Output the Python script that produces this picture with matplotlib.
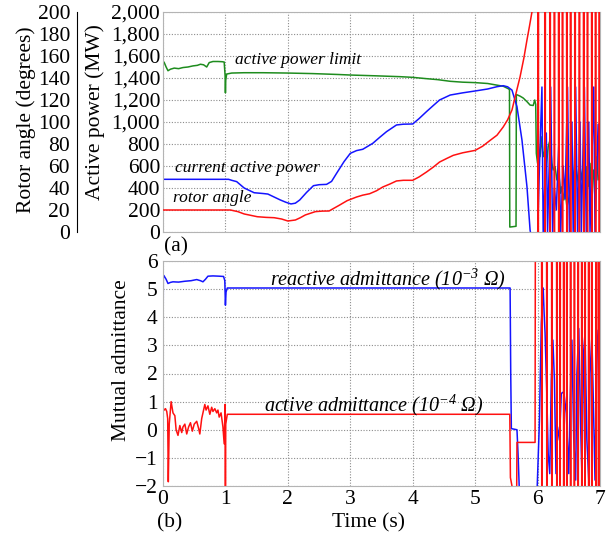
import matplotlib
matplotlib.use('Agg')
import matplotlib.pyplot as plt
from matplotlib.ticker import FuncFormatter

plt.rcParams['font.family'] = 'Liberation Serif'
plt.rcParams['mathtext.default'] = 'regular'

# ---- panel (a): active power limit (MW) ----
limit_t = [0.0, 0.001, 0.02, 0.05, 0.08, 0.12, 0.18, 0.25, 0.32, 0.4, 0.48, 0.55, 0.6, 0.65, 0.7,
           0.74, 0.8, 0.88, 0.95, 0.98, 0.995, 1.0, 1.005, 1.02, 1.1, 1.3, 1.6, 2.0, 2.4, 2.8, 3.0,
           3.4, 3.8, 4.0, 4.2, 4.4, 4.6, 4.8, 5.0, 5.2, 5.35, 5.45, 5.54, 5.55, 5.555, 5.6, 5.655,
           5.66, 5.72, 5.77, 5.83, 5.88, 5.93, 5.955, 5.97, 5.98, 6.0, 6.01, 6.04, 6.07, 6.09, 6.12,
           6.14, 6.17, 6.2, 6.23, 6.25, 6.28, 6.31, 6.34, 6.37, 6.39, 6.42, 6.44, 6.47, 6.52, 6.55,
           6.58, 6.6, 6.63, 6.66, 6.68, 6.71, 6.74, 6.77, 6.79, 6.82, 6.84, 6.87, 6.9, 6.93, 6.95,
           6.97, 7.0]
limit_p = [0, 1555, 1540, 1500, 1466, 1480, 1490, 1485, 1495, 1500, 1510, 1515, 1525, 1520, 1500,
           1540, 1550, 1550, 1548, 1545, 1420, 1265, 1380, 1436, 1445, 1448, 1448, 1445, 1440, 1432, 1427,
           1420, 1412, 1406, 1395, 1385, 1370, 1362, 1358, 1350, 1335, 1325, 1300, 1290, 45, 48, 52,
           1250, 1235, 1218, 1185, 1154, 1150, 1200, 1160, 715, 624, 806, 685, 867, 685, 745,
           594, 776, 836, 624, 564, 594, 473, 533, 352, 412, 291, 382, 230, 352, 594,
           473, 655, 533, 412, 594, 473, 655, 382, 594, 412, 624, 291, 564, 412, 685,
           473, 533]

# ---- panel (a): current active power (MW) ----
power_t = [0.0, 1.05, 1.1, 1.18, 1.3, 1.46, 1.6, 1.68, 1.88, 1.97, 2.05, 2.12, 2.19, 2.3, 2.41,
           2.5, 2.62, 2.7, 2.78, 2.9, 3.0, 3.1, 3.2, 3.36, 3.47, 3.58, 3.74, 3.85, 4.0, 4.1, 4.22,
           4.33, 4.43, 4.6, 4.8, 5.0, 5.2, 5.35, 5.45, 5.52, 5.59, 5.67, 5.75, 5.83, 5.88, 5.9,
           6.0, 6.03, 6.07, 6.09, 6.12, 6.14, 6.16, 6.19, 6.21, 6.24, 6.27, 6.3, 6.34, 6.37, 6.41,
           6.44, 6.48, 6.51, 6.55, 6.57, 6.61, 6.64, 6.68, 6.7, 6.75, 6.78, 6.82, 6.84, 6.9, 6.92,
           6.97, 7.0]
power_p = [479, 479, 470, 458, 400, 357, 350, 345, 291, 270, 255, 262, 291, 360, 421,
           430, 433, 460, 533, 640, 715, 740, 752, 806, 860, 912, 973, 980, 982, 1030, 1094,
           1150, 1200, 1245, 1265, 1282, 1300, 1321, 1330, 1320, 1290, 1139, 836, 412, 18, -50,
           -50, 600, 1318, 0, 500, 900, 0, 700, 1318, 0, 400, 200, 800, 0, 600,
           300, 1318, 0, 1000, 0, 1318, 0, 1000, 0, 1318, 0, 1000, 0, 1318, 0,
           980, 400]

# ---- panel (a): rotor angle (degrees) ----
angle_t = [0.0, 1.08, 1.2, 1.3, 1.51, 1.65, 1.78, 1.9, 2.0, 2.12, 2.2, 2.28, 2.44, 2.55, 2.66,
           2.82, 2.95, 3.1, 3.2, 3.31, 3.42, 3.52, 3.63, 3.74, 3.85, 4.0, 4.1, 4.22, 4.33, 4.43,
           4.55, 4.65, 4.8, 5.0, 5.12, 5.24, 5.35, 5.45, 5.52, 5.59, 5.65, 5.72, 5.78, 5.83, 5.87,
           5.91, 5.95,
           6.004, 6.007, 6.013, 6.016, 6.114, 6.117, 6.123, 6.126, 6.194, 6.197, 6.203, 6.206,
           6.264, 6.267, 6.273, 6.276, 6.334, 6.337, 6.343, 6.346, 6.394, 6.397, 6.403, 6.406,
           6.464, 6.467, 6.473, 6.476, 6.524, 6.527, 6.533, 6.536, 6.594, 6.597, 6.603, 6.606,
           6.664, 6.667, 6.673, 6.676, 6.734, 6.737, 6.743, 6.746, 6.794, 6.797, 6.803, 6.806,
           6.864, 6.867, 6.873, 6.876, 6.924, 6.927, 6.933, 6.936, 6.984, 6.987, 6.993, 6.996, 7.0]
angle_d = [20, 20, 18.5, 16.4, 13.9, 13.3, 13.0, 11.8, 10.0, 10.9, 13, 15.5, 18.5, 19.0, 19.1,
           24.2, 28.5, 31.8, 33.5, 34.8, 37.5, 40.9, 43.5, 46.4, 47, 47, 50, 54.5, 59, 63.6,
           67, 69.7, 72, 74.2, 78, 83.3, 88, 95.5, 102, 110.9, 125, 141.2, 158, 174.5, 187,
           200, 230,
           260, -5, -5, 260, 260, -5, -5, 260, 260, -5, -5, 260,
           260, -5, -5, 260, 260, -5, -5, 260, 260, -5, -5, 260,
           260, -5, -5, 260, 260, -5, -5, 260, 260, -5, -5, 260,
           260, -5, -5, 260, 260, -5, -5, 260, 260, -5, -5, 260,
           260, -5, -5, 260, 260, -5, -5, 260, 260, -5, -5, 260, 260]

# ---- panel (b): reactive admittance (10^-3 ohm) ----
react_t = [0.0, 0.005, 0.02, 0.05, 0.08, 0.12, 0.16, 0.25, 0.35, 0.45, 0.54, 0.6, 0.64, 0.68,
           0.72, 0.8, 0.9, 0.97, 0.99, 1.0, 1.01, 1.03, 5.56, 5.57, 5.58, 5.67, 5.69, 5.71, 5.99,
           6.03, 6.06, 6.09, 6.105, 6.12, 6.145, 6.17, 6.195, 6.22, 6.245, 6.27, 6.295, 6.32, 6.35,
           6.38, 6.42, 6.46, 6.5, 6.52, 6.55, 6.58, 6.61, 6.63, 6.66, 6.69, 6.71, 6.74, 6.76, 6.79,
           6.82, 6.84, 6.87, 6.9, 6.92, 6.95, 6.97, 7.0]
react_v = [0.8, 5.5, 5.46, 5.35, 5.2, 5.24, 5.26, 5.25, 5.28, 5.3, 5.34, 5.3, 5.26, 5.35,
           5.46, 5.47, 5.46, 5.45, 5.3, 4.43, 4.9, 5.04, 5.04, 2.0, 0.04, 0.0, -1.0, -2.3, -2.3,
           0.34, 3.78, 5.04, 4.15, 3.44, 1.53, -0.85, -1.56, 1.77, 3.19, 1.77, -1.56, 0.1, -0.37,
           1.29, 1.35, 0.58, -1.56, 0.82, 3.19, -0.37, -1.79, 2.0, 3.6, 0.1, -1.56, 2.83, 3.43, -0.37,
           -1.79, 2.0, 3.31, 0.34, -1.79, 2.83, 3.54, -1.08]

# ---- panel (b): active admittance (10^-4 ohm) ----
act_t = [0.0, 0.004, 0.02, 0.04, 0.06, 0.075, 0.085, 0.1, 0.13, 0.16, 0.19, 0.21, 0.24, 0.27,
         0.3, 0.32, 0.35, 0.38, 0.41, 0.44, 0.47, 0.5, 0.54, 0.57, 0.59, 0.62, 0.64, 0.67, 0.69,
         0.72, 0.75, 0.78, 0.8, 0.83, 0.86, 0.88, 0.9, 0.93, 0.96, 0.98, 0.995, 1.0, 1.005, 1.03,
         5.555, 5.565, 5.59, 5.62, 5.665, 5.67, 5.96, 5.965,
         6.064, 6.067, 6.073, 6.076, 6.144, 6.147, 6.153, 6.156, 6.224, 6.227, 6.233, 6.236,
         6.304, 6.307, 6.313, 6.316, 6.354, 6.357, 6.363, 6.366, 6.414, 6.417, 6.423, 6.426,
         6.464, 6.467, 6.473, 6.476, 6.524, 6.527, 6.533, 6.536, 6.584, 6.587, 6.593, 6.596,
         6.644, 6.647, 6.653, 6.656, 6.704, 6.707, 6.713, 6.716, 6.754, 6.757, 6.763, 6.766,
         6.814, 6.817, 6.823, 6.826, 6.864, 6.867, 6.873, 6.876, 6.934, 6.937, 6.943, 6.946,
         6.974, 6.977, 6.983, 6.986, 7.0]
act_v = [-1.8, 0.75, 0.7, 0.75, 0.65, 0.4, -1.85, 0.2, 1.0, 0.6, 0.5, 0.0, -0.2, 0.15,
         -0.1, 0.1, 0.2, -0.15, 0.1, 0.25, -0.05, 0.2, 0.3, 0.05, -0.15, 0.4, 0.6, 0.9, 0.7,
         0.85, 0.55, 0.8, 0.65, 0.75, 0.6, 0.7, 0.45, 0.6, 0.1, -0.5, 0.9, -2.5, 0.2, 0.55,
         0.55, -1.7, -2.0, -2.3, -2.3, -0.45, -0.45, 8,
         8, -3, -3, 8, 8, -3, -3, 8, 8, -3, -3, 8,
         8, -3, -3, 8, 8, -3, -3, 8, 8, -3, -3, 8,
         8, -3, -3, 8, 8, -3, -3, 8, 8, -3, -3, 8,
         8, -3, -3, 8, 8, -3, -3, 8, 8, -3, -3, 8,
         8, -3, -3, 8, 8, -3, -3, 8, 8, -3, -3, 8,
         8, -3, -3, 8, 8]

red = '#ff1111'
blue = '#1414ff'
green = '#1e8c1e'
lw = 1.1
grid_kw = dict(color='#8c8c8c', linestyle=(0, (1, 1.5)), linewidth=0.8)
fs = 15.5

fig = plt.figure(figsize=(6.09, 5.36), dpi=100)
ax1 = fig.add_axes([163 / 609, 1 - 232 / 536, 437 / 609, 220 / 536])
ax2 = fig.add_axes([163 / 609, 1 - 486 / 536, 437 / 609, 225 / 536])

# panel (a)
ax1.plot(limit_t, limit_p, color=green, lw=lw)
ax1.plot(power_t, power_p, color=blue, lw=lw)
ax1.set_xlim(0, 7)
ax1.set_ylim(0, 2000)
ax1.set_yticks(range(0, 2001, 200))
ax1.yaxis.set_major_formatter(FuncFormatter(lambda v, p: '{:,}'.format(int(v))))
ax1.set_xticks(range(0, 8))
ax1.tick_params(axis='x', labelbottom=False, length=0)
ax1.tick_params(axis='y', length=0, pad=2, labelsize=fs)
ax1.grid(True, **grid_kw)

axr = ax1.twinx()
axr.plot(angle_t, angle_d, color=red, lw=lw)
axr.set_ylim(0, 200)
axr.set_yticks(range(0, 201, 20))
axr.yaxis.tick_left()
axr.spines['left'].set_position(('axes', -86 / 437))
axr.spines['left'].set_visible(True)
axr.spines['left'].set_color('black')
for s in ['right', 'top', 'bottom']:
    axr.spines[s].set_visible(False)
axr.tick_params(axis='y', length=0, pad=5, labelsize=fs)

ax1.text(1.15, 1560, 'active power limit', style='italic', fontsize=12.5, va='center')
ax1.text(0.19, 585, 'current active power', style='italic', fontsize=12.5, va='center')
ax1.text(0.16, 306, 'rotor angle', style='italic', fontsize=12.5, va='center')

# panel (b)
ax2.plot(react_t, react_v, color=blue, lw=lw)
ax2.plot(act_t, act_v, color=red, lw=lw)
ax2.set_xlim(0, 7)
ax2.set_ylim(-2, 6)
ax2.set_yticks(range(-2, 7))
ax2.set_xticks(range(0, 8))
ax2.tick_params(length=0, labelsize=fs)
ax2.tick_params(axis='y', pad=4)
ax2.tick_params(axis='x', pad=3)
ax2.grid(True, **grid_kw)
ax2.text(3.6, 5.36, r'reactive admittance (10$^{-3}$ Ω)', style='italic', fontsize=14.5,
         ha='center', va='center')
ax2.text(3.38, 0.875, r'active admittance (10$^{-4}$ Ω)', style='italic', fontsize=14.5,
         ha='center', va='center')

for ax in (ax1, ax2):
    for s in ['left', 'right', 'top', 'bottom']:
        ax.spines[s].set_color('#b4b4b4')

fig.text(26 / 609, 1 - 120 / 536, 'Rotor angle (degrees)', rotation=90, fontsize=fs,
         ha='center', va='center')
fig.text(95 / 609, 1 - 112 / 536, 'Active power (MW)', rotation=90, fontsize=fs,
         ha='center', va='center')
fig.text(121 / 609, 1 - 360 / 536, 'Mutual admittance', rotation=90, fontsize=fs,
         ha='center', va='center')
fig.text(368 / 609, 1 - 523 / 536, 'Time (s)', fontsize=fs, ha='center', va='center')
fig.text(176 / 609, 1 - 247 / 536, '(a)', fontsize=fs, ha='center', va='center')
fig.text(170 / 609, 1 - 523 / 536, '(b)', fontsize=fs, ha='center', va='center')

fig.savefig('out.png', dpi=100)
